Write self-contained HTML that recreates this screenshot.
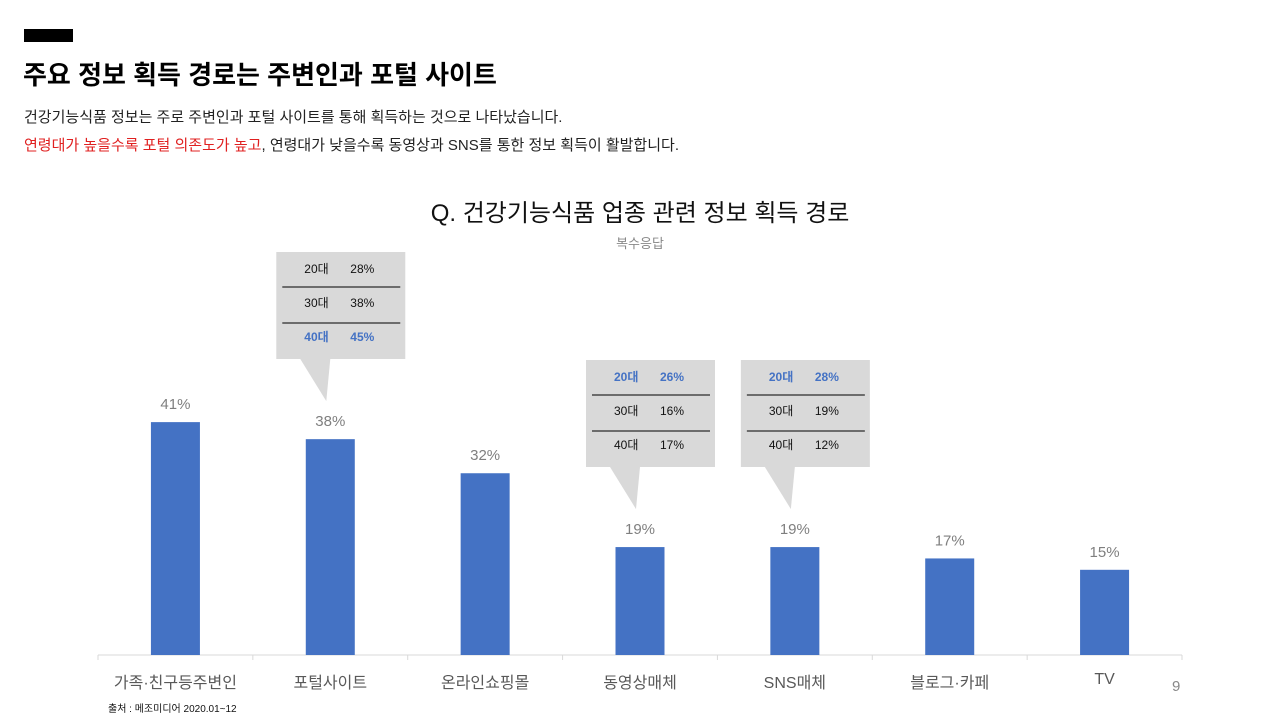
<!DOCTYPE html>
<html><head><meta charset="utf-8"><style>
body{margin:0;width:1280px;height:720px;background:#fff;position:relative;overflow:hidden;font-family:"Liberation Sans","Noto Sans CJK KR",sans-serif}
.a{position:absolute;white-space:nowrap}
</style></head><body>
<div class="a" style="left:24px;top:29px;width:49px;height:13px;background:#000"></div>
<div class="a" style="left:23px;top:55px;font-size:26px;font-weight:bold;color:#000">주요 정보 획득 경로는 주변인과 포털 사이트</div>
<div class="a" style="left:24px;top:106px;font-size:15px;color:#222">건강기능식품 정보는 주로 주변인과 포털 사이트를 통해 획득하는 것으로 나타났습니다.</div>
<div class="a" style="left:24px;top:134px;font-size:15px;color:#222"><span style="color:#e02020">연령대가 높을수록 포털 의존도가 높고</span>, 연령대가 낮을수록 동영상과 SNS를 통한 정보 획득이 활발합니다.</div>
<div class="a" style="left:0;width:1280px;text-align:center;top:193px;font-size:24px;color:#111">Q. 건강기능식품 업종 관련 정보 획득 경로</div>
<div class="a" style="left:0;width:1280px;text-align:center;top:233px;font-size:13px;color:#888">복수응답</div>
<svg id="chart" class="a" style="left:0;top:0" width="1280" height="720"></svg>
<div class="a" style="left:108px;top:700px;font-size:10px;color:#111">출처 : 메조미디어 2020.01~12</div>
<div class="a" style="left:1172px;top:678px;font-size:15px;color:#888">9</div>
<script>
const categories=["가족·친구등주변인","포털사이트","온라인쇼핑몰","동영상매체","SNS매체","블로그·카페","TV"];
const values=[41,38,32,19,19,17,15];
const calloutIdx=[1,3,4];
const calloutAges=["20대","30대","40대"];
const calloutVals=[[28,38,45],[26,16,17],[28,19,12]];
const calloutHi=[2,0,0];
const NS="http://www.w3.org/2000/svg";
const svg=document.getElementById('chart');
const x0=98,x1=1182,base=655,ppu=5.68,bw=49;
const step=(x1-x0)/categories.length;
const xc=i=>x0+step*(i+0.5);
const y=v=>base-v*ppu;
function mk(t,a,p){const e=document.createElementNS(NS,t);for(const k in a)e.setAttribute(k,a[k]);(p||svg).appendChild(e);return e;}
const ax=mk('line',{x1:x0,x2:x1,y1:base,y2:base,stroke:'#d9d9d9'});


for(let i=0;i<=categories.length;i++){const t=mk('line',{x1:x0+step*i,x2:x0+step*i,y1:base,y2:base+5,stroke:'#d9d9d9'});

}
categories.forEach((c,i)=>{
const r=mk('rect',{x:xc(i)-bw/2,y:y(values[i]),width:bw,height:values[i]*ppu,fill:'#4472c4'});


const l=mk('text',{x:xc(i),y:y(values[i])-13,'text-anchor':'middle','font-size':15,fill:'#7f7f7f'});l.textContent=values[i]+'%';


const cl=mk('text',{x:xc(i),y:i==6?684:688,'text-anchor':'middle','font-size':16,fill:'#595959'});cl.textContent=c;


});
calloutIdx.forEach((ci,k)=>{
const g=mk('g',{});


const bx=xc(ci)-54,by=k==0?252:360,w=129,h=107;
const tip=y(values[ci])-38;
mk('path',{d:`M${bx+24},${by+h} L${bx+54},${by+h} L${bx+50},${tip} Z`,fill:'#d9d9d9'},g);
mk('rect',{x:bx,y:by,width:w,height:h,fill:'#d9d9d9'},g);
[0,1].forEach(j=>mk('line',{x1:bx+6,x2:bx+w-5,y1:by+35+j*36,y2:by+35+j*36,stroke:'#000'},g));
calloutAges.forEach((a,j)=>{
const hi=j==calloutHi[k];const ty=by+21+j*34;
const s={'font-size':12,fill:hi?'#4472c4':'#111','font-weight':hi?'bold':'normal'};
const t1=mk('text',Object.assign({x:bx+28,y:ty},s),g);t1.textContent=a;
const t2=mk('text',Object.assign({x:bx+74,y:ty},s),g);t2.textContent=calloutVals[k][j]+'%';
});
});
</script>
</body></html>
